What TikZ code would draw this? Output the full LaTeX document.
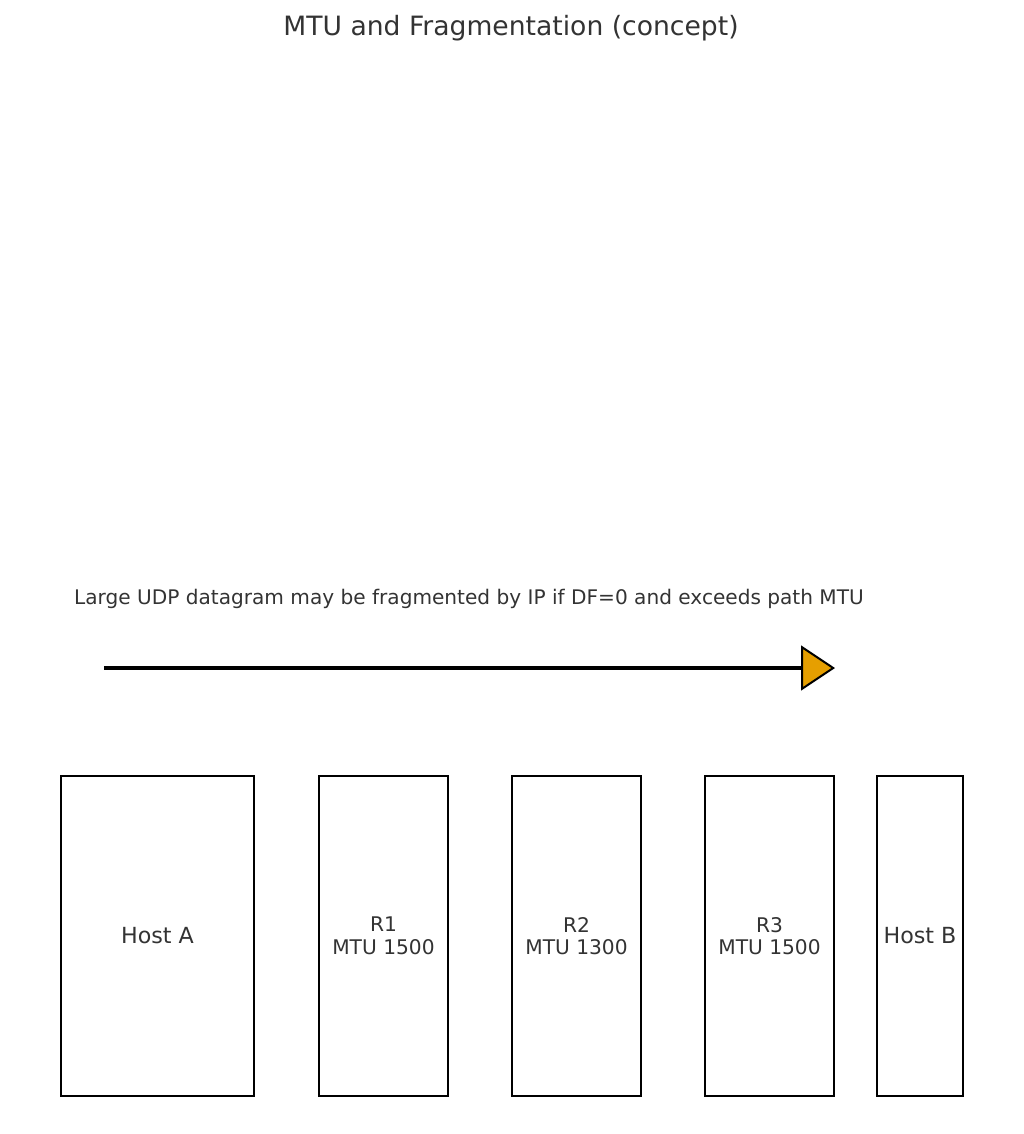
\documentclass[tikz,border=0pt]{standalone}
\usepackage{fontspec}
\setmainfont{DejaVu Sans}
\usetikzlibrary{arrows.meta}
\definecolor{txtgray}{HTML}{333333}
\definecolor{mplorange}{HTML}{E69F00}

\begin{document}
\begin{tikzpicture}[x=1pt,y=-1pt,
  hop/.style={draw=black,line width=1.7pt,minimum height=320pt,inner sep=0pt,
    align=center,text=txtgray,font=\fontsize{20.2}{22.5}\selectfont},
  host/.style={hop,font=\fontsize{22.2}{25}\selectfont}]
\useasboundingbox (0,0) rectangle (1023,1134);
\node[text=txtgray,font=\fontsize{26.6}{30}\selectfont] (title) at (511,28) {MTU and Fragmentation (concept)};
\node[text=txtgray,anchor=west,inner sep=0pt,font=\fontsize{20.1}{24}\selectfont] (note) at (74,599) {Large UDP datagram may be fragmented by IP if DF=0 and exceeds path MTU};
% hosts and routers
\node[host,minimum width=193pt] (hostA) at (157.5,936) {Host A};
\node[hop,minimum width=129pt] (rOne) at (383.5,936) {R1\\MTU 1500};
\node[hop,minimum width=129pt] (rTwo) at (576.5,936) {R2\\MTU 1300};
\node[hop,minimum width=129pt] (rThree) at (769.5,936) {R3\\MTU 1500};
\node[host,minimum width=86pt] (hostB) at (920,936) {Host B};
% direction of the datagram
\coordinate (src) at (104,668);
\coordinate (dst) at (835,668);
\draw[line width=4.5pt,-{Triangle[length=34pt,width=45pt,line width=2pt,fill=mplorange]}] (src) -- (dst);
\end{tikzpicture}
\end{document}
